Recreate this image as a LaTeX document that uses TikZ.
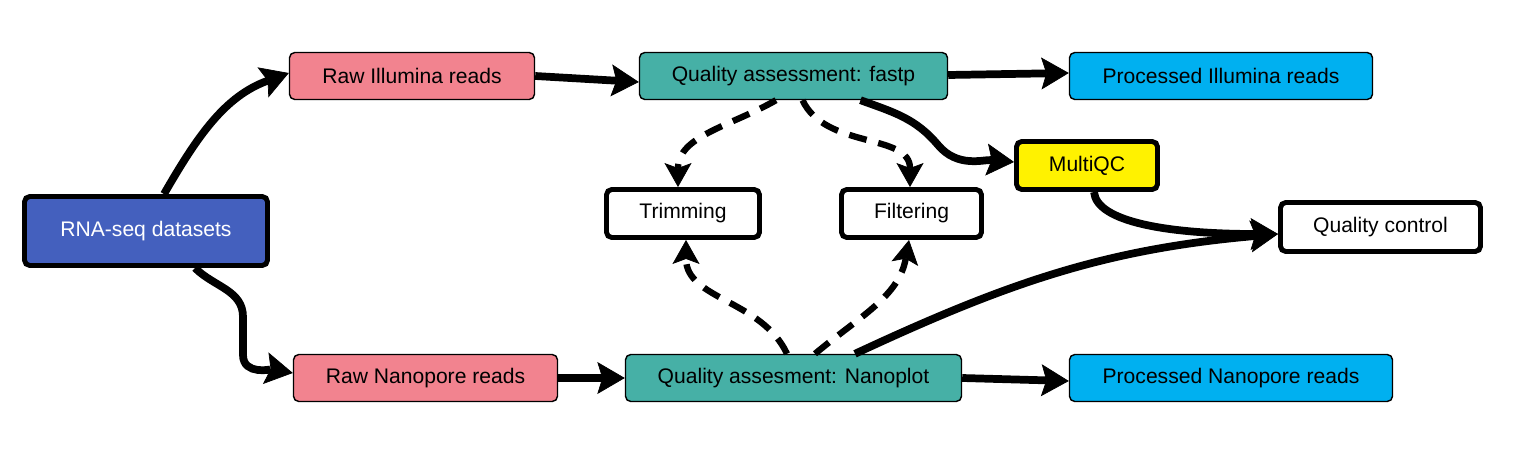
\documentclass[tikz,border=0pt]{standalone}
\usepackage{fontspec}
\setmainfont{Liberation Sans}
\usepackage{tikz}
\usetikzlibrary{arrows.meta}
\usepackage{xcolor}
\definecolor{dsblue}{HTML}{4460BE}
\definecolor{rawpink}{HTML}{F2838F}
\definecolor{qateal}{HTML}{46B0A6}
\definecolor{outcyan}{HTML}{00B0F0}

\begin{document}
\begin{tikzpicture}[
    box/.style={rectangle, rounded corners=3pt, draw=black, line width=0.8pt, inner sep=0pt, font=\fontsize{12}{14}\selectfont},
    tbox/.style={box, line width=2.8pt},
    conn/.style={line width=4.4pt, -{Stealth[length=0.55cm, width=0.64cm, inset=0.1cm, line width=0.4pt]}},
    dconn/.style={line width=3.6pt, dash pattern=on 0.36cm off 0.24cm, -{Stealth[length=0.48cm, width=0.54cm, inset=0.1cm, line width=0.4pt]}}
]
    \useasboundingbox (0,0) rectangle (30.32,-8.98);
    % Datasets
    \node[tbox, fill=dsblue, text=white, minimum width=4.86cm, minimum height=1.38cm] (rna) at (2.92,-4.62) {RNA-seq datasets};
    \node[box, fill=rawpink, minimum width=4.9cm, minimum height=0.94cm] (rawill) at (8.24,-1.52) {Raw Illumina reads};
    \node[box, fill=rawpink, minimum width=5.28cm, minimum height=0.94cm] (rawnano) at (8.51,-7.56) {Raw Nanopore reads};
    % Quality assessment
    \node[box, fill=qateal, minimum width=6.16cm, minimum height=0.94cm] (fastp) at (15.87,-1.52) {Quality assessment: fastp};
    \node[box, fill=qateal, minimum width=6.72cm, minimum height=0.94cm] (nanoplot) at (15.87,-7.56) {Quality assesment: Nanoplot};
    \node[tbox, fill=white, minimum width=3.06cm, minimum height=0.96cm] (trim) at (13.66,-4.27) {Trimming};
    \node[tbox, fill=white, minimum width=2.8cm, minimum height=0.96cm] (filt) at (18.23,-4.27) {Filtering};
    \node[tbox, fill=yellow, minimum width=2.82cm, minimum height=0.96cm] (multiqc) at (21.74,-3.31) {MultiQC};
    \node[tbox, fill=white, minimum width=4cm, minimum height=0.98cm] (qc) at (27.61,-4.54) {Quality control};
    % Outputs
    \node[box, fill=outcyan, minimum width=6.06cm, minimum height=0.94cm] (procill) at (24.42,-1.52) {Processed Illumina reads};
    \node[box, fill=outcyan, minimum width=6.46cm, minimum height=0.94cm] (procnano) at (24.62,-7.56) {Processed Nanopore reads};
    % Main flow
    \draw[conn] ([xshift=0.36cm]rna.north) to[out=60, in=200] ([yshift=0.06cm]rawill.west);
    \draw[conn] ([xshift=0.98cm]rna.south) to[out=-45, in=90] (4.86,-6.34) -- (4.86,-7.1) to[out=-90, in=170] ([yshift=0.1cm]rawnano.west);
    \draw[conn] (rawill.east) -- ([yshift=-0.12cm]fastp.west);
    \draw[conn] ([yshift=0.02cm]fastp.east) -- ([yshift=0.06cm]procill.west);
    \draw[conn] (rawnano.east) -- (nanoplot.west);
    \draw[conn] (nanoplot.east) -- ([yshift=-0.06cm]procnano.west);
    % Reports
    \draw[conn] ([xshift=1.34cm]fastp.south) to[out=-20, in=130] (18.76,-2.9) to[out=-50, in=175] ([yshift=0.07cm]multiqc.west);
    \draw[conn] ([xshift=0.14cm]multiqc.south) .. controls +(0.05,-0.6) and +(-2.2,0) .. ([yshift=-0.14cm]qc.west);
    \draw[conn] ([xshift=1.23cm]nanoplot.north) to[out=25, in=185] ([yshift=-0.14cm]qc.west);
    % Processing steps
    \draw[dconn] ([xshift=-0.35cm]fastp.south) to[out=-150, in=90] ([xshift=-0.1cm]trim.north);
    \draw[dconn] ([xshift=0.18cm]fastp.south) to[out=-65, in=90] ([xshift=-0.03cm]filt.north);
    \draw[dconn] ([xshift=-0.13cm]nanoplot.north) to[out=115, in=-90] ([xshift=0.06cm]trim.south);
    \draw[dconn] ([xshift=0.43cm]nanoplot.north) to[out=40, in=-100] ([xshift=-0.05cm]filt.south);
\end{tikzpicture}
\end{document}
